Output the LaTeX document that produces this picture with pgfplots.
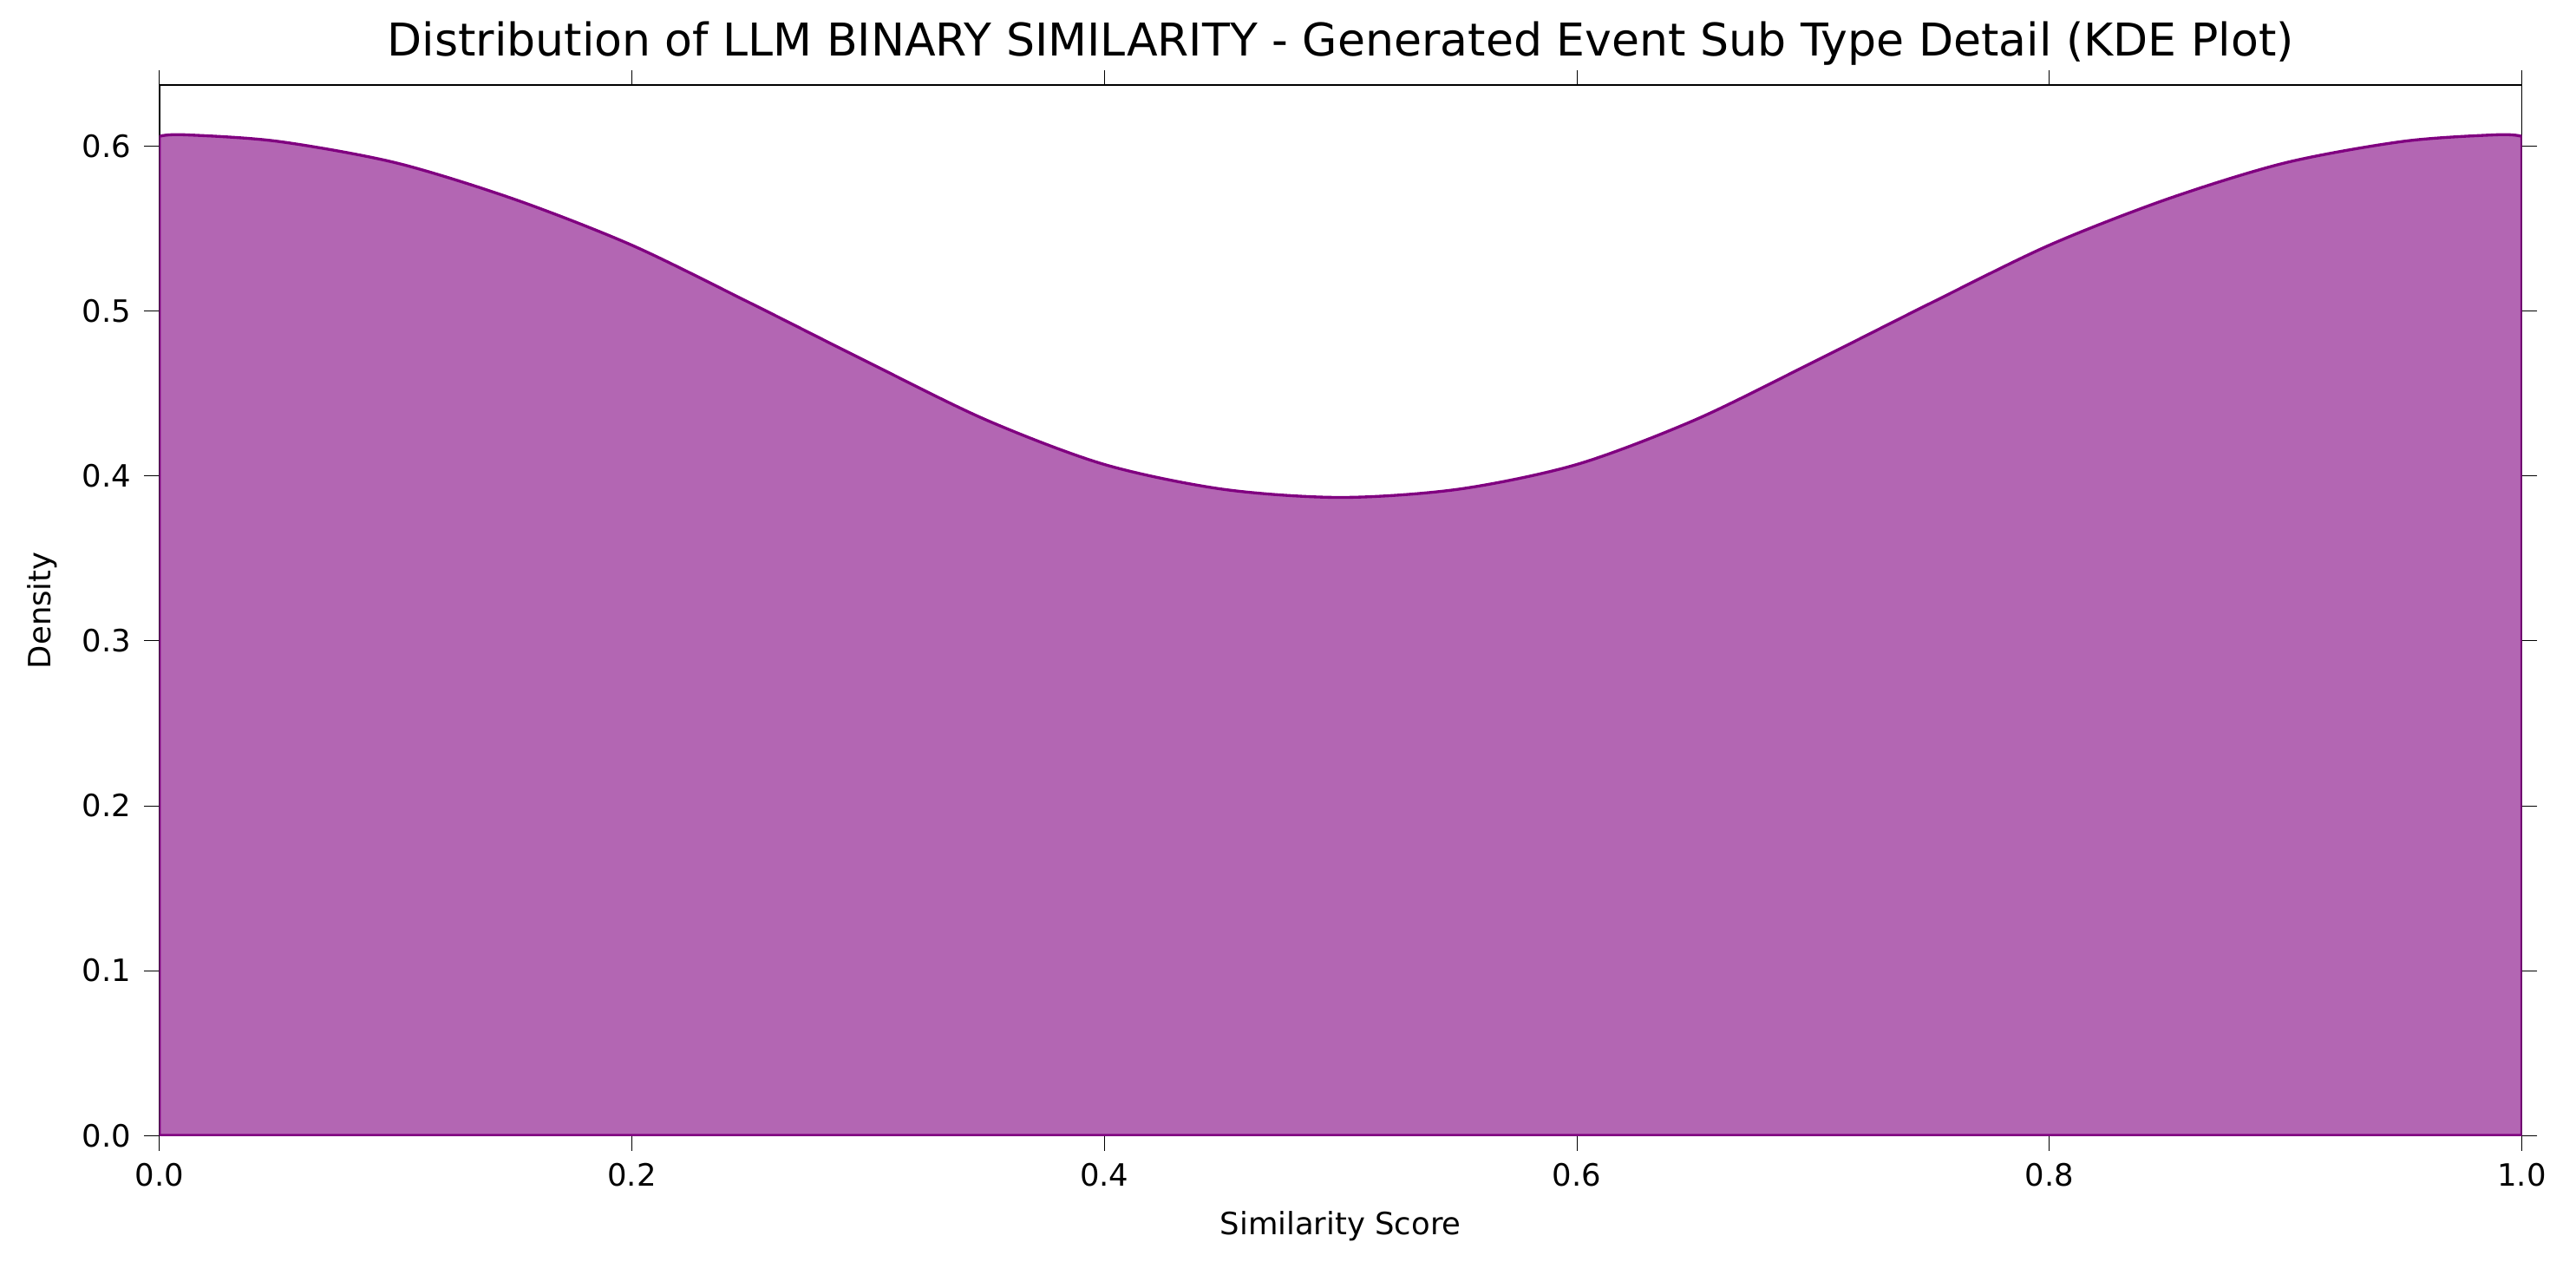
\documentclass[border=0pt]{standalone}
\usepackage{pgfplots}
\pgfplotsset{compat=1.18}
\usepackage{fontspec}
\setmainfont{DejaVu Sans}
\definecolor{kde}{RGB}{128,0,128}
\begin{document}
\begin{tikzpicture}
\path[use as bounding box] (-44.1pt,-38.6pt) rectangle (668.7pt,314.2pt);
\begin{axis}[
  at={(0,0)}, anchor=south west,
  scale only axis, width=653.7pt, height=290.6pt,
  xmin=0, xmax=1, ymin=0, ymax=0.637,
  xtick={0,0.2,0.4,0.6,0.8,1.0},
  ytick={0,0.1,0.2,0.3,0.4,0.5,0.6},
  xticklabels={0.0,0.2,0.4,0.6,0.8,1.0},
  yticklabels={0.0,0.1,0.2,0.3,0.4,0.5,0.6},
  tick label style={font=\fontsize{8.5}{10}\selectfont},
  tick align=outside, tick style={black},
  xlabel={Similarity Score}, ylabel={Density},
  label style={font=\fontsize{8.5}{10}\selectfont},
  title={Distribution of LLM BINARY SIMILARITY - Generated Event Sub Type Detail (KDE Plot)},
  title style={font=\fontsize{12.5}{14}\selectfont, yshift=-4pt},
  axis line style={black},
]
\addplot[draw=kde, thick, fill=kde, fill opacity=0.6, smooth] coordinates {
(0,0.606)(0.01,0.607)(0.05,0.603)(0.1,0.590)(0.15,0.568)(0.2,0.540)(0.25,0.505)(0.3,0.469)(0.35,0.434)(0.4,0.407)(0.45,0.392)(0.5,0.387)
(0.55,0.392)(0.6,0.407)(0.65,0.434)(0.7,0.469)(0.75,0.505)(0.8,0.540)(0.85,0.568)(0.9,0.590)(0.95,0.603)(0.99,0.607)(1,0.606)
} \closedcycle;
\end{axis}
\end{tikzpicture}
\end{document}
